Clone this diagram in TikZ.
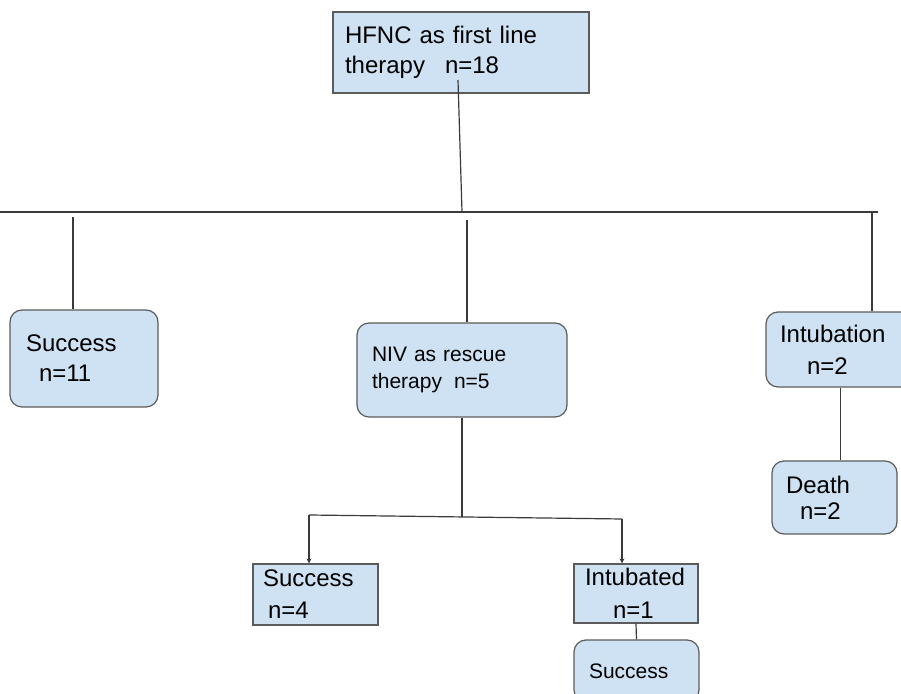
\documentclass[tikz,border=0pt]{standalone}
\usepackage{fontspec}
\setmainfont{Liberation Sans}
\usetikzlibrary{arrows.meta}
\definecolor{boxfill}{HTML}{CFE2F3}
\definecolor{boxedge}{HTML}{5B5B5B}
\definecolor{linegray}{HTML}{3A3A3A}

\begin{document}
\begin{tikzpicture}[x=0.5pt,y=-0.5pt,>={Stealth[length=2.5pt,width=2.5pt]},semithick]
  \tikzstyle{rbox}=[draw=boxedge,fill=boxfill,rounded corners=6pt,align=left,
                    inner ysep=0pt,font=\fontsize{12}{15}\selectfont]
  \tikzstyle{sbox}=[rbox,sharp corners]
  \tikzstyle{every edge}=[draw=linegray]

  \useasboundingbox (0,0) rectangle (901,694);

  \node[sbox,inner xsep=6pt,text width=116pt,minimum height=40.5pt]
       (HFNC)   at (461,52.5)  {HFNC as first line\\therapy\hspace{10pt}n=18};
  \node[rbox,inner xsep=8pt,text width=58pt,minimum height=48.5pt]
       (SUCC)   at (84,358.5)  {Success\\\hspace*{6.5pt}n=11};
  \node[rbox,inner xsep=7.5pt,text width=90pt,minimum height=47pt,
        font=\fontsize{10.5}{13.5}\selectfont]
       (NIV)    at (462,370)   {NIV as rescue\\therapy\hspace{6pt}n=5};
  \node[rbox,inner xsep=7pt,text width=60.5pt,minimum height=37.5pt,
        font=\fontsize{12}{16}\selectfont]
       (INTUB)  at (840.5,349.5) {Intubation\\\hspace*{13.5pt}n=2};
  \node[rbox,inner xsep=7pt,text width=48.5pt,minimum height=36.5pt,
        font=\fontsize{12}{13}\selectfont]
       (DEATH)  at (834.5,497.5) {Death\\\hspace*{7pt}n=2};
  \node[sbox,inner xsep=5pt,text width=52.5pt,minimum height=30.5pt,
        font=\fontsize{12}{16}\selectfont]
       (SUCCB)  at (315.5,594.5) {Success\\\hspace*{2.5pt}n=4};
  \node[sbox,inner xsep=5.5pt,text width=51pt,minimum height=29.5pt,
        font=\fontsize{12}{16.5}\selectfont]
       (INTUBD) at (636,593.5) {Intubated\\\hspace*{14pt}n=1};
  \node[rbox,inner xsep=7.5pt,text width=47.5pt,minimum height=31pt,
        font=\fontsize{10.5}{13.5}\selectfont]
       (SUCCC)  at (636.5,671) {Success};

  % free ends of the connectors
  \coordinate (TOPIN) at (458,80);
  \coordinate (HUB)   at (462,212);
  \coordinate (BARL)  at (0,212);
  \coordinate (BARR)  at (878,212);
  \coordinate (LB)    at (73,217);
  \coordinate (MB)    at (467,220);
  \coordinate (RB)    at (872,212);
  \coordinate (SPLIT) at (462,517);
  \coordinate (SPL)   at (309,515);
  \coordinate (SPR)   at (622,519);

  \path (TOPIN) edge (HUB)
        (BARL)  edge (BARR)
        (LB)    edge (LB |- SUCC.north)
        (MB)    edge (MB |- NIV.north)
        (RB)    edge (RB |- INTUB.north)
        (NIV.south) edge (SPLIT)
        (SPL)   edge (SPR)
        (SPL)   edge[->] (SPL |- SUCCB.north)
        (SPR)   edge[->] (SPR |- INTUBD.north)
        (INTUB.south)  edge (INTUB.south |- DEATH.north)
        (INTUBD.south) edge (SUCCC.north);
\end{tikzpicture}
\end{document}
